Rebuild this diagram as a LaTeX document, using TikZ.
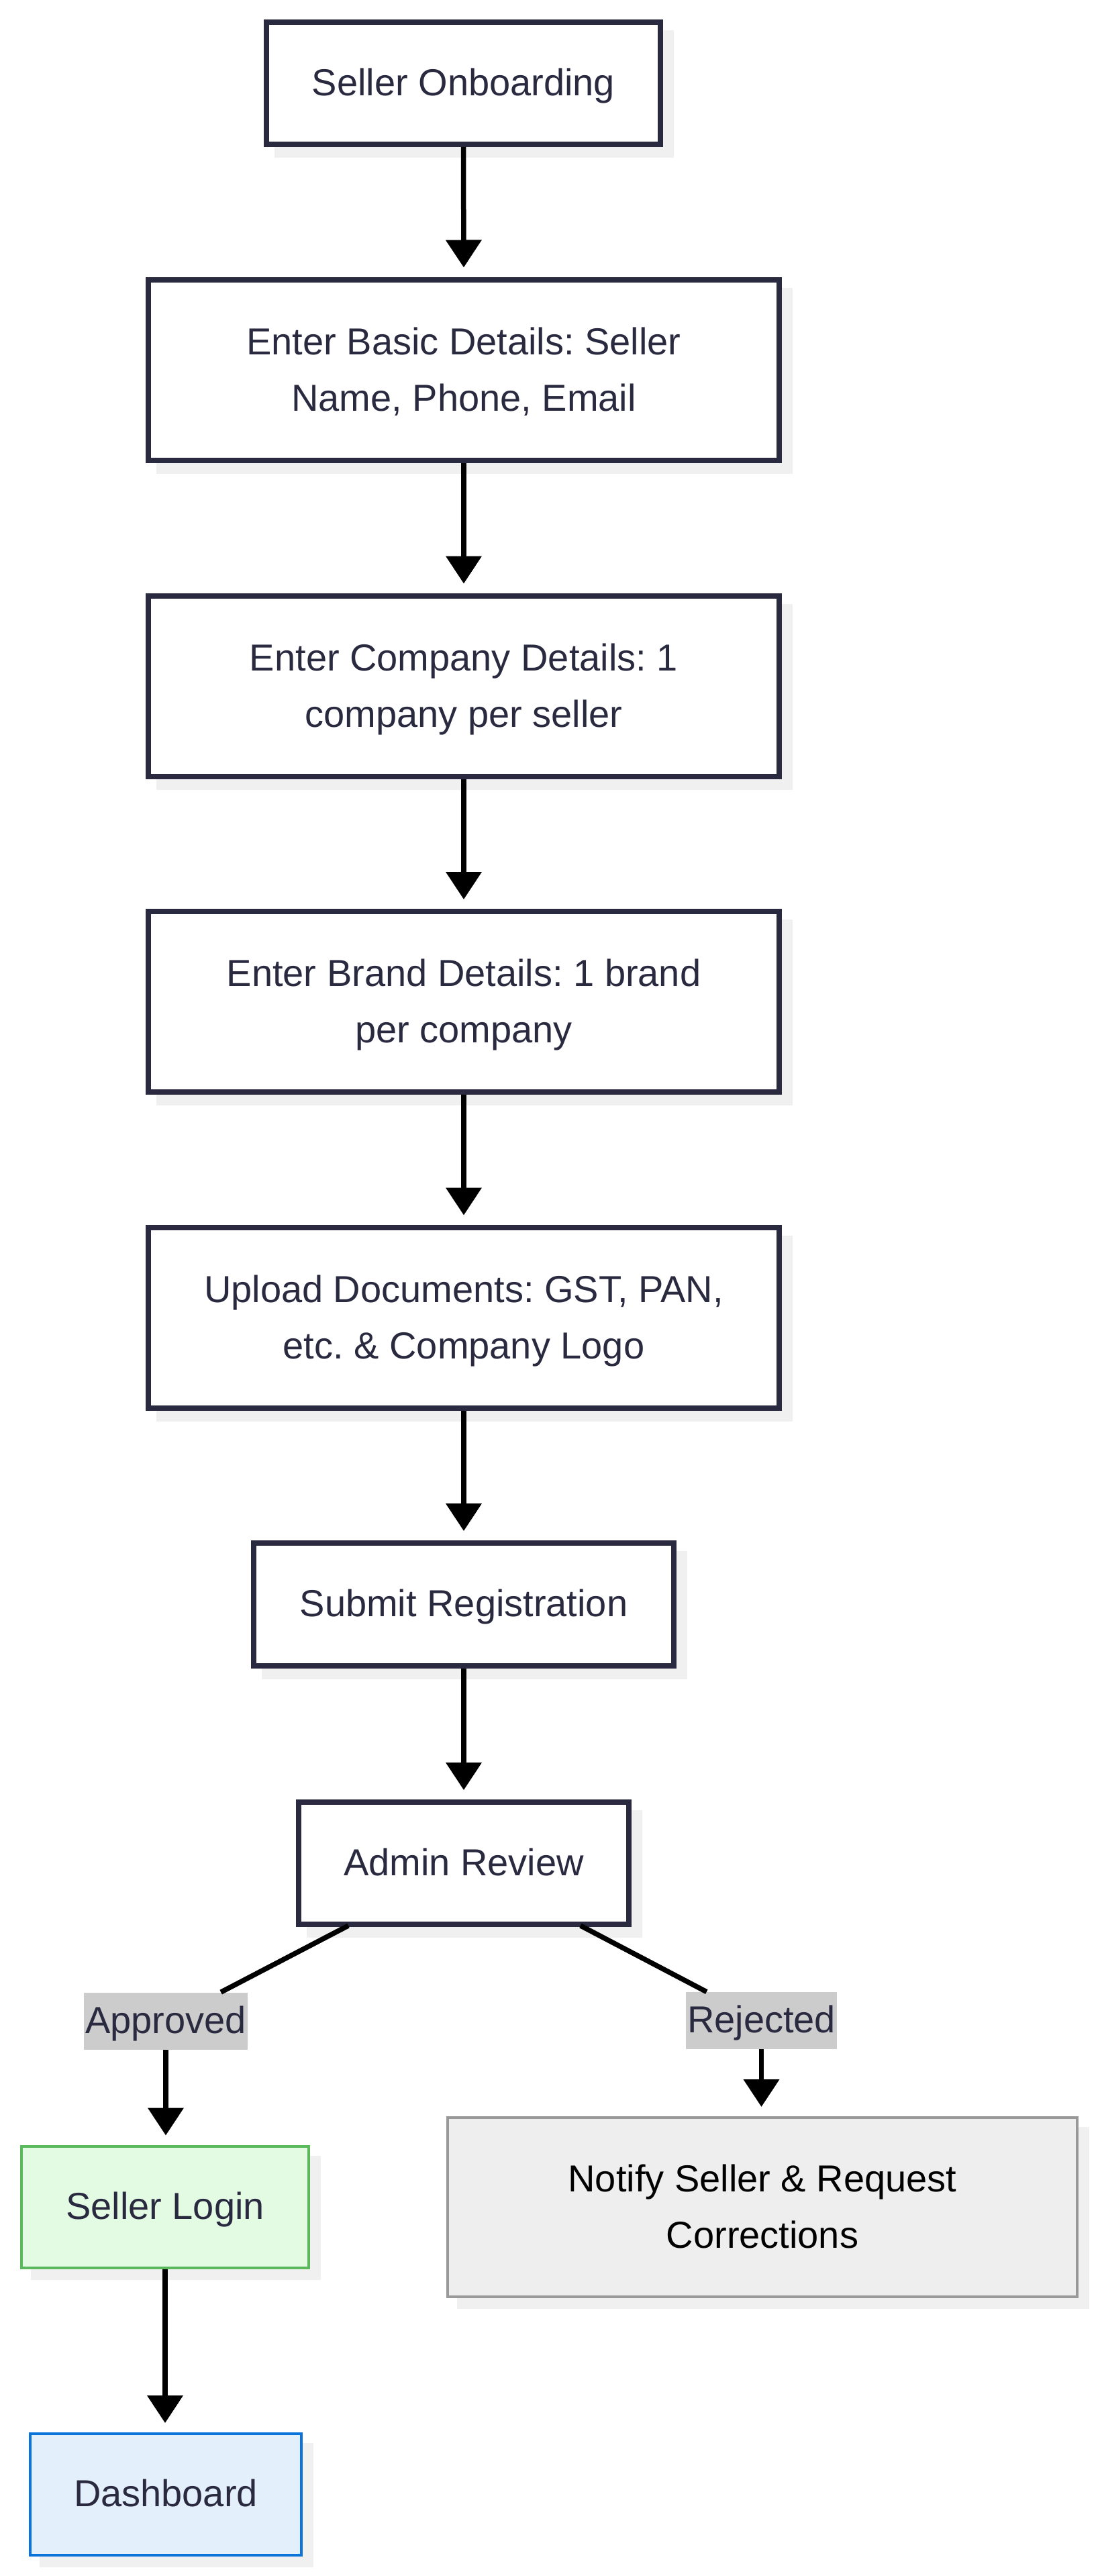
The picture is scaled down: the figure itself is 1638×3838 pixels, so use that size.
\documentclass[tikz,border=0pt]{standalone}
\usepackage{fontspec}
\setmainfont{Liberation Sans}
\usetikzlibrary{arrows.meta,calc}
\pgfdeclarelayer{bg}
\pgfsetlayers{bg,main}
\definecolor{navy}{RGB}{41,41,63}
\definecolor{shadowgray}{RGB}{240,240,240}
\definecolor{lblgray}{RGB}{204,204,204}
\definecolor{greenline}{RGB}{92,184,92}
\definecolor{greenfill}{RGB}{227,251,227}
\definecolor{blueline}{RGB}{10,116,218}
\definecolor{bluefill}{RGB}{228,239,252}
\definecolor{grayline}{RGB}{153,153,153}
\definecolor{grayfill}{RGB}{238,238,238}
\frenchspacing
\begin{document}
\begin{tikzpicture}[x=0.5pt,y=-0.5pt,
  base/.style={rectangle, align=center, inner sep=0pt, font=\fontsize{28pt}{42pt}\selectfont},
  oneline/.style={text height=20pt, text depth=2pt},
  twoline/.style={text height=64pt, text depth=3pt},
  mainbox/.style={base, draw=navy, fill=white, line width=4pt, text=navy},
  greenbox/.style={base, draw=greenline, fill=greenfill, line width=2pt, text=navy},
  bluebox/.style={base, draw=blueline, fill=bluefill, line width=2pt, text=navy},
  graybox/.style={base, draw=grayline, fill=grayfill, line width=2pt, text=black},
  lbl/.style={rectangle, fill=lblgray, inner xsep=1pt, inner ysep=0pt, minimum height=42.5pt, text=navy, font=\fontsize{28pt}{42pt}\selectfont, oneline},
  edge/.style={line width=3.75pt, black},
  arr/.style={edge, -{Triangle[width=26pt,length=20.5pt]}, shorten >=7pt}
]
\useasboundingbox (0,0) rectangle (1638,3838);

\node[mainbox, oneline, minimum width=293.5pt, minimum height=91pt] (onb) at (690.5,124) {Seller Onboarding};
\node[mainbox, twoline, minimum width=470pt, minimum height=134.5pt] (basic) at (691,551) {Enter Basic Details: Seller\\Name, Phone, Email};
\node[mainbox, twoline, minimum width=470pt, minimum height=134.5pt] (comp) at (691,1022) {Enter Company Details: 1\\company per seller};
\node[mainbox, twoline, minimum width=470pt, minimum height=134.5pt] (brand) at (691,1492.5) {Enter Brand Details: 1 brand\\per company};
\node[mainbox, twoline, minimum width=470pt, minimum height=134.5pt] (docs) at (691,1963) {Upload Documents: GST, PAN,\\etc. \& Company Logo};
\node[mainbox, oneline, minimum width=313pt, minimum height=91.5pt] (submit) at (691,2390.5) {Submit Registration};
\node[mainbox, oneline, minimum width=246pt, minimum height=91pt] (admin) at (691,2776) {Admin Review};

\node[lbl] (appr) at (247,3011) {Approved};
\node[lbl] (rej) at (1134.5,3010.5) {Rejected};

\node[greenbox, oneline, minimum width=214pt, minimum height=90.5pt] (login) at (246,3288) {Seller Login};
\node[graybox, twoline, minimum width=469pt, minimum height=133.5pt] (notify) at (1136,3288.5) {Notify Seller \& Request\\Corrections};
\node[bluebox, oneline, minimum width=202pt, minimum height=90.5pt] (dash) at (247,3716.5) {Dashboard};

\begin{pgfonlayer}{bg}
\foreach \n in {onb,basic,comp,brand,docs,submit,admin,login,notify,dash}{
  \fill[shadowgray] ($(\n.north west)+(16,16)$) rectangle ($(\n.south east)+(16,16)$);
}
\end{pgfonlayer}

\draw[arr] (onb.south) -- (basic.north);
\draw[arr] (basic.south) -- (comp.north);
\draw[arr] (comp.south) -- (brand.north);
\draw[arr] (brand.south) -- (docs.north);
\draw[arr] (docs.south) -- (submit.north);
\draw[arr] (submit.south) -- (admin.north);

\coordinate (aL) at ($(admin.south)+(-172,-2)$);
\coordinate (aR) at ($(admin.south)+(174,-2)$);
\draw[edge] (aL) -- (appr);
\draw[edge] (aR) -- (rej);
\draw[arr] (appr.south) -- (appr.south |- login.north);
\draw[arr] (rej.south) -- (rej.south |- notify.north);
\draw[arr] (login.south) -- (login.south |- dash.north);
\end{tikzpicture}
\end{document}
